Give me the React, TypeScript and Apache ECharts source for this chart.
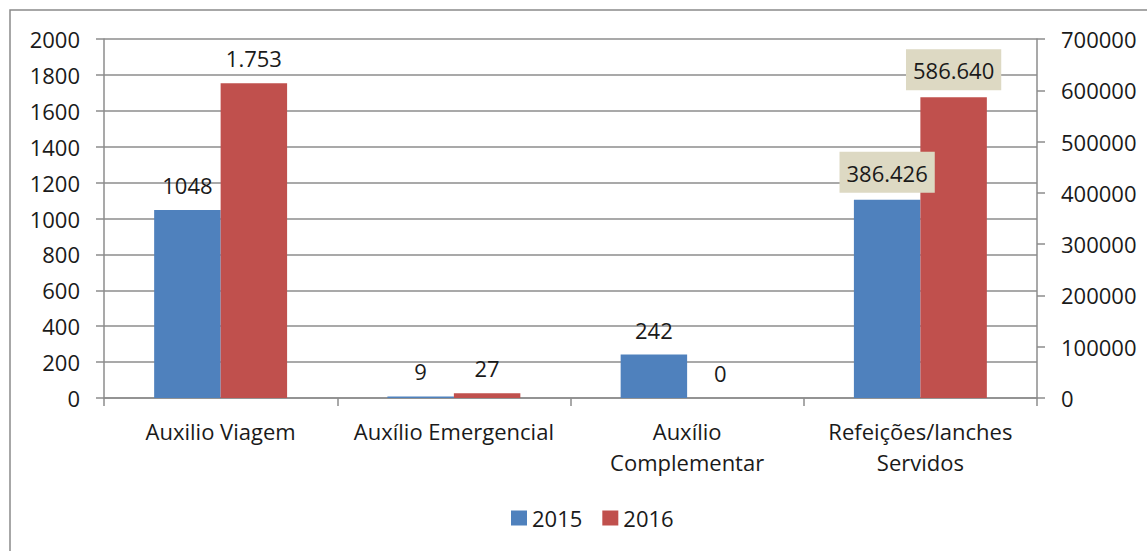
import React, { useEffect, useRef } from "react";
import * as echarts from "echarts";

const categories = ["Auxilio Viagem", "Auxílio Emergencial", "Auxílio\nComplementar", "Refeições/lanches\nServidos"];
const leftValues2015 = [1048, 9, 242, "-"];
const leftValues2016 = [1753, 27, 0, "-"];
const rightValues2015 = ["-", "-", "-", 386426];
const rightValues2016 = ["-", "-", "-", 586640];
const labels2015 = ["1048", "9", "242", "386.426"];
const labels2016 = ["1.753", "27", "0", "586.640"];
const leftTicks = { min: 0, max: 2000, interval: 200 };
const rightTicks = { min: 0, max: 700000, interval: 100000 };

const FONT = "Open Sans";
const FS = 22;
const BLUE = "#4f81bd";
const RED = "#c0504d";
const GRID = "#8c8c8c";
const TXT = "#1a1a1a";

export default function App() {
  const ref = useRef<HTMLDivElement>(null);
  useEffect(() => {
    const chart = echarts.init(ref.current!, null, { renderer: "svg" });
    const baseLabel = {
      show: true,
      position: "top",
      distance: 14,
      fontFamily: FONT,
      fontSize: FS,
      color: TXT,
    };
    const boxLabel = {
      ...baseLabel,
      distance: 7,
      backgroundColor: "#ddd9c3",
      padding: [10, 7, 9, 7],
    };
    const barCommon = { barGap: "0%", barCategoryGap: "43%" };
    const plain = (v: number) => String(v);
    chart.setOption({
      animation: false,
      graphic: [
        {
          type: "rect",
          shape: { x: 10, y: 10, width: 1300, height: 700 },
          style: { fill: "none", stroke: "#8a8a8a", lineWidth: 1.5 },
          silent: true,
        },
      ],
      legend: {
        bottom: 17,
        left: 506,
        itemWidth: 16,
        itemHeight: 15,
        itemGap: 20,
        icon: "rect",
        textStyle: { fontFamily: FONT, fontSize: FS, color: TXT },
        data: ["2015", "2016"],
      },
      grid: { left: 104, right: 110, top: 39, bottom: 153 },
      xAxis: [
        {
          type: "category",
          data: categories,
          axisLine: { lineStyle: { color: GRID, width: 1.5 } },
          axisTick: { show: true, length: 8, lineStyle: { color: GRID, width: 1.5 } },
          axisLabel: { fontFamily: FONT, fontSize: FS, color: TXT, margin: 17, lineHeight: 31, interval: 0 },
        },
        { type: "category", data: categories, show: false },
      ],
      yAxis: [
        {
          type: "value",
          ...leftTicks,
          axisLine: { show: true, lineStyle: { color: GRID, width: 1.5 } },
          axisTick: { show: true, length: 8, lineStyle: { color: GRID, width: 1.5 } },
          splitLine: { lineStyle: { color: GRID, width: 1.5 } },
          axisLabel: { fontFamily: FONT, fontSize: FS, color: TXT, margin: 24, formatter: plain },
        },
        {
          type: "value",
          position: "right",
          ...rightTicks,
          axisLine: { show: true, lineStyle: { color: GRID, width: 1.5 } },
          axisTick: { show: true, length: 8, lineStyle: { color: GRID, width: 1.5 } },
          splitLine: { show: false },
          axisLabel: { fontFamily: FONT, fontSize: FS, color: TXT, margin: 24, formatter: plain },
        },
      ],
      series: [
        {
          name: "2015", type: "bar", xAxisIndex: 0, yAxisIndex: 0, data: leftValues2015,
          itemStyle: { color: BLUE }, ...barCommon,
          label: { ...baseLabel, formatter: (p: any) => labels2015[p.dataIndex] },
        },
        {
          name: "2016", type: "bar", xAxisIndex: 0, yAxisIndex: 0, data: leftValues2016,
          itemStyle: { color: RED }, ...barCommon,
          label: { ...baseLabel, formatter: (p: any) => labels2016[p.dataIndex] },
        },
        {
          name: "2015", type: "bar", xAxisIndex: 1, yAxisIndex: 1, data: rightValues2015,
          itemStyle: { color: BLUE }, ...barCommon,
          label: { ...boxLabel, formatter: (p: any) => labels2015[p.dataIndex] },
        },
        {
          name: "2016", type: "bar", xAxisIndex: 1, yAxisIndex: 1, data: rightValues2016,
          itemStyle: { color: RED }, ...barCommon,
          label: { ...boxLabel, formatter: (p: any) => labels2016[p.dataIndex] },
        },
      ],
    });
    return () => chart.dispose();
  }, []);
  return (
    <div
      ref={ref}
      style={{ position: "fixed", left: 0, top: 0, width: 1147, height: 551, background: "#fff" }}
    />
  );
}
